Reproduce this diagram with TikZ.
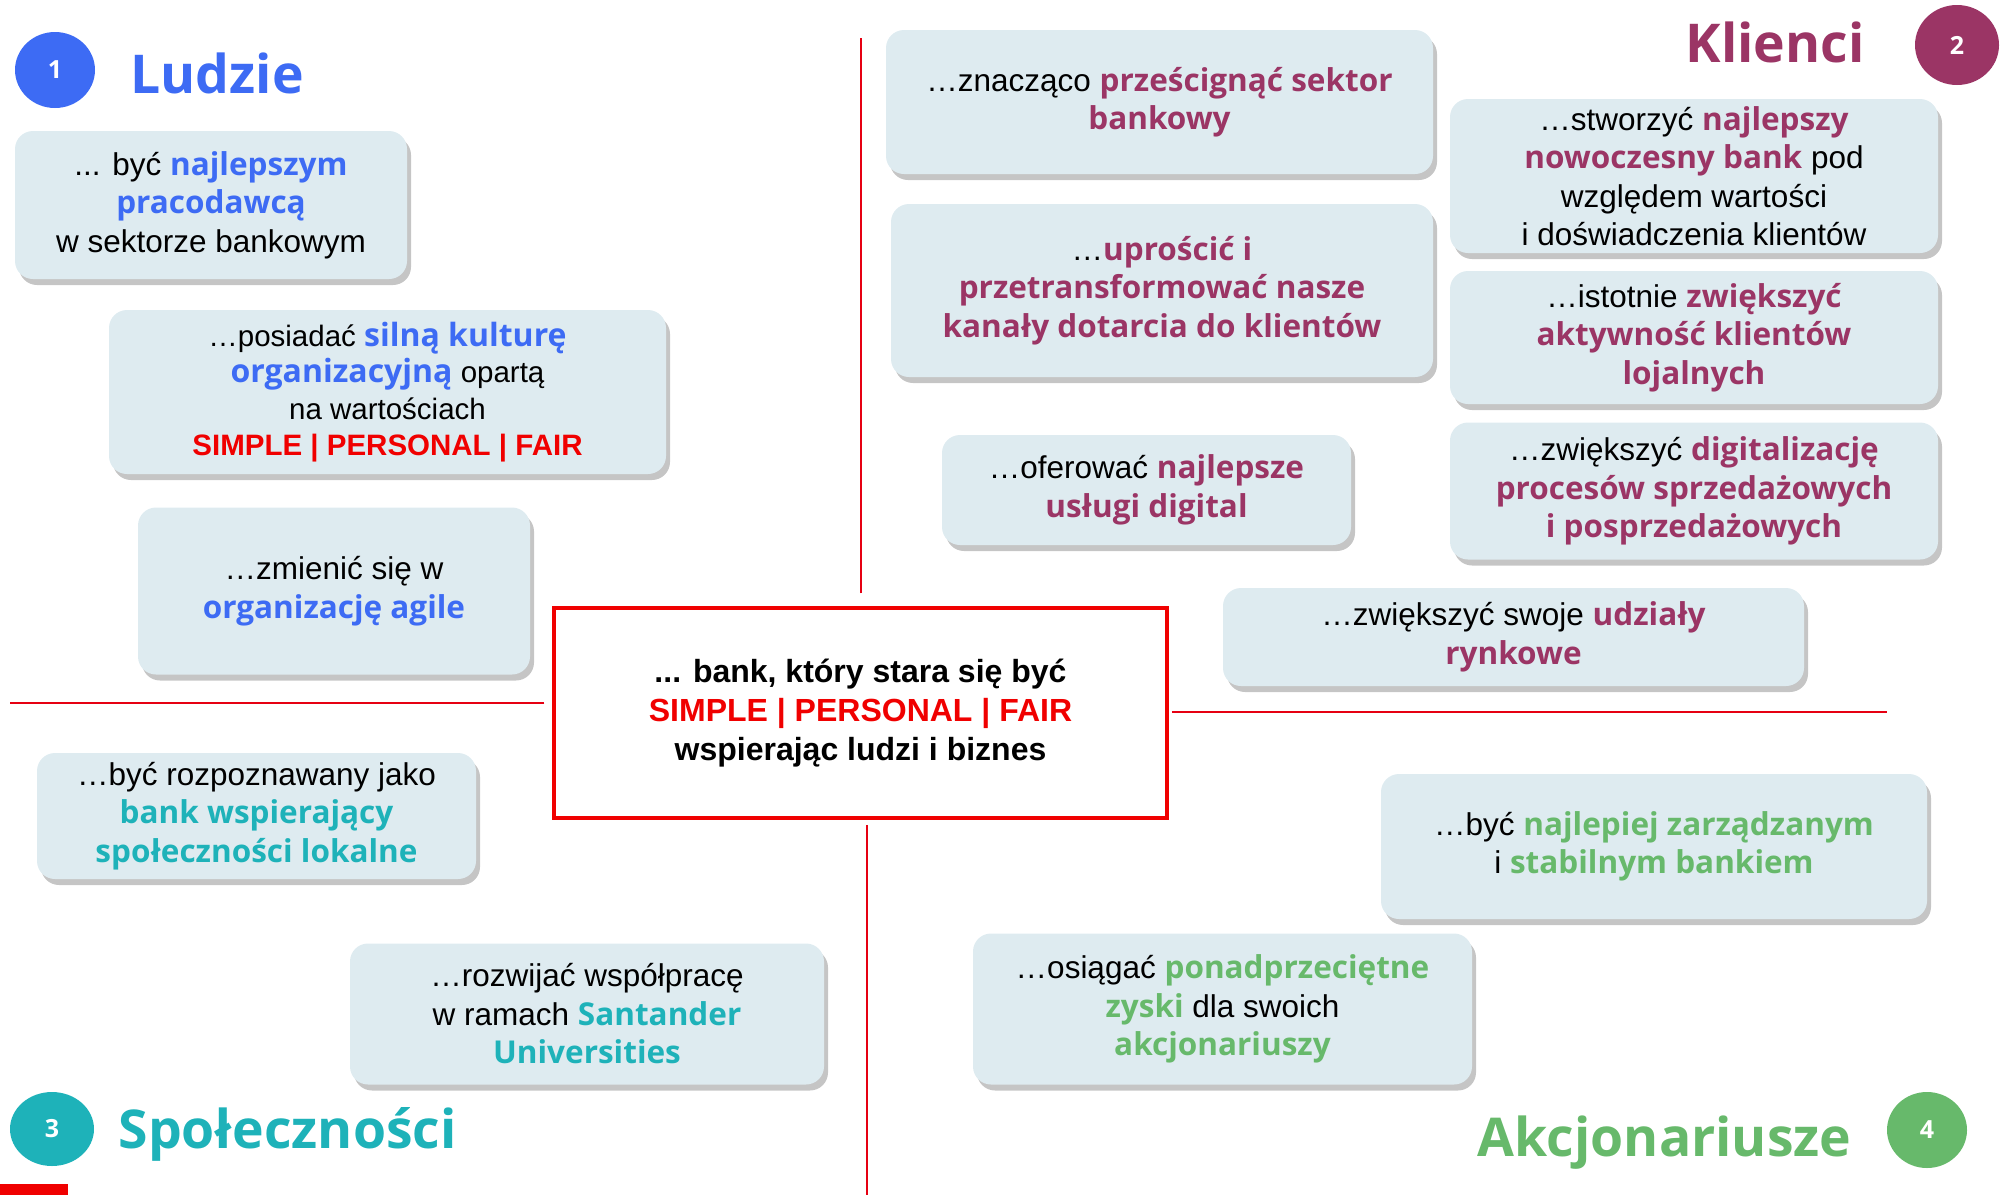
\documentclass[tikz,border=0pt]{standalone}
\usepackage{fontspec}
\setmainfont{Liberation Sans}
\newfontfamily\opensans{Open Sans}
\usetikzlibrary{shadows,shapes.geometric}

\definecolor{ludzie}{HTML}{3D6BF4}
\definecolor{klienci}{HTML}{9B3565}
\definecolor{spolecz}{HTML}{1EB2B9}
\definecolor{akcje}{HTML}{67B96B}
\definecolor{boxfill}{HTML}{DEEBF0}
\definecolor{axisred}{HTML}{E60012}
\definecolor{valred}{HTML}{F00000}

\newcommand\ludz[1]{{\opensans\bfseries\color{ludzie}#1}}
\newcommand\klie[1]{{\opensans\bfseries\color{klienci}#1}}
\newcommand\spol[1]{{\opensans\bfseries\color{spolecz}#1}}
\newcommand\akcj[1]{{\opensans\bfseries\color{akcje}#1}}
\newcommand\values{{\bfseries\color{valred}SIMPLE | PERSONAL | FAIR}}

\begin{document}
\begin{tikzpicture}[x=1pt,y=-1pt,
    goal/.style={fill=boxfill,rounded corners=18pt,align=center,inner sep=0pt,
      drop shadow={shadow xshift=4pt,shadow yshift=-6pt,fill=black!45,opacity=.5},
      font=\fontsize{31.5}{38.5}\selectfont},
    badge/.style={ellipse,inner sep=0pt,minimum width=80pt,minimum height=76pt,
      text=white,font=\opensans\bfseries\fontsize{25}{25}\selectfont},
    title/.style={font=\opensans\bfseries\fontsize{53.5}{54}\selectfont},
    axis/.style={draw=axisred,line width=2.6pt}]

  \useasboundingbox (0,0) rectangle (2002,1195);

  % centre
  \node[draw=valred,line width=3.5pt,minimum width=613pt,minimum height=210pt,
        align=center,inner sep=0pt,font=\bfseries\fontsize{32}{39}\selectfont]
        (centre) at (860.5,713) {... bank, kt\'ory stara si\k{e} by\'c\\ \values\\ wspieraj\k{a}c ludzi i biznes};

  \coordinate (topend) at (861,38);
  \coordinate (bottomend) at (867,1195);
  \coordinate (leftend) at (10,703);
  \coordinate (rightend) at (1887,712);
  \draw[axis] ([xshift=.5pt,yshift=13pt]centre.north) -- (topend);
  \draw[axis] ([xshift=6.5pt,yshift=-5pt]centre.south) -- (bottomend);
  \draw[axis] ([xshift=-8pt,yshift=10pt]centre.west) -- (leftend);
  \draw[axis] ([xshift=3pt,yshift=1pt]centre.east) -- (rightend);
  \fill[valred] (0,1184) rectangle (68,1195);

  % 1 Ludzie
  \node[badge,fill=ludzie] (n1) at (55,70) {1};
  \node[title,text=ludzie,anchor=base west] (ludzie) at (127,93) {Ludzie};
  \node[goal,minimum width=392pt,minimum height=148pt] (l1) at (211,205)
    {... by\'c \ludz{najlepszym}\\ \ludz{pracodawc\k{a}}\\ w sektorze bankowym};
  \node[goal,minimum width=557pt,minimum height=164pt,font=\fontsize{29.5}{36.5}\selectfont] (l2) at (387.5,392)
    {\dots posiada\'c \ludz{\fontsize{32}{36.5}\selectfont siln\k{a} kultur\k{e}}\\
     \ludz{\fontsize{32}{36.5}\selectfont organizacyjn\k{a}} opart\k{a}\\ na warto\'sciach\\ \values};
  \node[goal,minimum width=392pt,minimum height=167pt] (l3) at (334,591)
    {\dots zmieni\'c si\k{e} w\\ \ludz{organizacj\k{e} agile}};

  % 2 Klienci
  \node[badge,fill=klienci,minimum width=84pt,minimum height=80pt] (n2) at (1957,45) {2};
  \node[title,text=klienci,anchor=base east] (klienci) at (1868,62) {Klienci};
  \node[goal,minimum width=547pt,minimum height=144pt] (k1) at (1159.5,102)
    {\dots znacz\k{a}co \klie{prze\'scign\k{a}\'c sektor}\\ \klie{bankowy}};
  \node[goal,minimum width=542pt,minimum height=173pt] (k2) at (1162,290.5)
    {\dots\klie{upro\'sci\'c i}\\ \klie{przetransformowa\'c nasze}\\ \klie{kana\l y dotarcia do klient\'ow}};
  \node[goal,minimum width=409pt,minimum height=110pt] (k3) at (1146.5,490)
    {\dots oferowa\'c \klie{najlepsze}\\ \klie{us\l ugi digital}};
  \node[goal,minimum width=488pt,minimum height=154pt] (k4) at (1694,176)
    {\dots stworzy\'c \klie{najlepszy}\\ \klie{nowoczesny bank} pod\\ wzgl\k{e}dem warto\'sci\\ i do\'swiadczenia klient\'ow};
  \node[goal,minimum width=488pt,minimum height=133pt] (k5) at (1694,337.5)
    {\dots istotnie \klie{zwi\k{e}kszy\'c}\\ \klie{aktywno\'s\'c klient\'ow}\\ \klie{lojalnych}};
  \node[goal,minimum width=488pt,minimum height=137pt] (k6) at (1694,491)
    {\dots zwi\k{e}kszy\'c \klie{digitalizacj\k{e}}\\ \klie{proces\'ow sprzeda\.zowych}\\ \klie{i posprzeda\.zowych}};
  \node[goal,minimum width=581pt,minimum height=98pt] (k7) at (1513.5,637)
    {\dots zwi\k{e}kszy\'c swoje \klie{udzia\l y}\\ \klie{rynkowe}};

  % 3 Spolecznosci
  \node[badge,fill=spolecz,minimum width=84pt,minimum height=74pt] (n3) at (52,1129) {3};
  \node[title,text=spolecz,anchor=base west] (spol) at (115,1148) {Spo\l eczno\'sci};
  \node[goal,minimum width=439pt,minimum height=126pt] (s1) at (256.5,816)
    {\dots by\'c rozpoznawany jako\\ \spol{bank wspieraj\k{a}cy}\\ \spol{spo\l eczno\'sci lokalne}};
  \node[goal,minimum width=474pt,minimum height=141pt] (s2) at (587,1014)
    {\dots rozwija\'c wsp\'o\l prac\k{e}\\ w ramach \spol{Santander}\\ \spol{Universities}};

  % 4 Akcjonariusze
  \node[badge,fill=akcje,minimum width=80pt,minimum height=76pt] (n4) at (1927,1130) {4};
  \node[title,text=akcje,anchor=base east] (akcj) at (1855,1156) {Akcjonariusze};
  \node[goal,minimum width=546pt,minimum height=145pt] (a1) at (1654,846.5)
    {\dots by\'c \akcj{najlepiej zarz\k{a}dzanym}\\ i \akcj{stabilnym bankiem}};
  \node[goal,minimum width=499pt,minimum height=151pt] (a2) at (1222.5,1009)
    {\dots osi\k{a}ga\'c \akcj{ponadprzeci\k{e}tne}\\ \akcj{zyski} dla swoich\\ \akcj{akcjonariuszy}};
\end{tikzpicture}
\end{document}
